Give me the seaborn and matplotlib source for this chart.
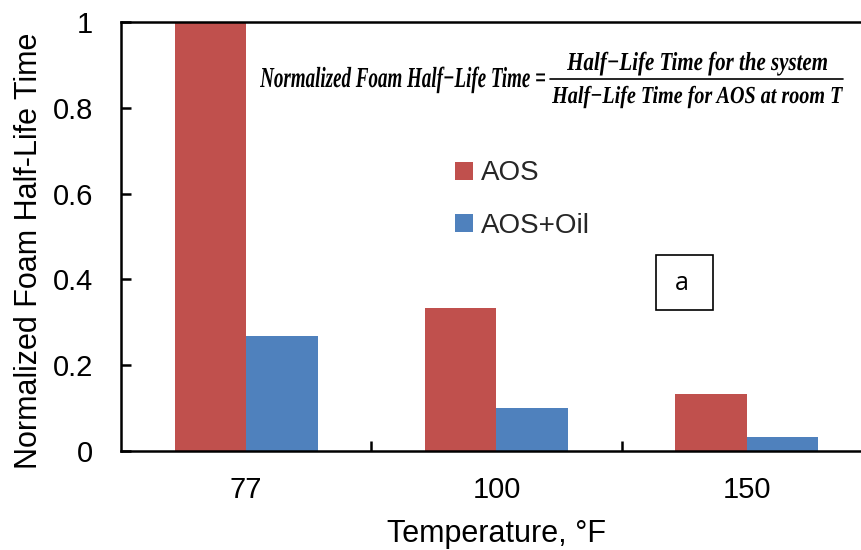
import matplotlib
matplotlib.use("Agg")
import matplotlib.pyplot as plt
import seaborn as sns
import pandas as pd
from matplotlib.patches import Patch, Rectangle, PathPatch
from matplotlib.lines import Line2D
from matplotlib.textpath import TextPath
from matplotlib.font_manager import FontProperties
from matplotlib.transforms import Affine2D

temperatures = ["77", "100", "150"]
aos = [1.0, 0.333, 0.133]
aos_oil = [0.267, 0.100, 0.033]
series_names = ["AOS", "AOS+Oil"]
colors = ["#C0504D", "#4F81BD"]
y_ticks = [0, 0.2, 0.4, 0.6, 0.8, 1.0]
y_tick_labels = ["0", "0.2", "0.4", "0.6", "0.8", "1"]

df = pd.DataFrame({
    "Temperature": temperatures * 2,
    "value": aos + aos_oil,
    "series": [series_names[0]] * 3 + [series_names[1]] * 3,
})

sns.set_theme(style="white")
plt.rcParams["font.family"] = ["Liberation Sans", "DejaVu Sans"]

W, H = 862, 550
fig = plt.figure(figsize=(W / 100, H / 100), dpi=100)
ax = fig.add_axes([121 / W, 99 / H, 751 / W, 429 / H])

sns.barplot(data=df, x="Temperature", y="value", hue="series",
            order=temperatures, hue_order=series_names, palette=colors,
            saturation=1, width=0.57, gap=0, linewidth=0, ax=ax, legend=False)

ax.set_xlim(-0.5, 2.5)
ax.set_ylim(0, 1)
ax.set_yticks(y_ticks)
ax.set_yticklabels(y_tick_labels)
ax.set_xticks([0.5, 1.5], minor=True)

for side in ["left", "bottom", "top", "right"]:
    ax.spines[side].set_visible(True)
    ax.spines[side].set_color("black")
    ax.spines[side].set_linewidth(1.8)

ax.tick_params(axis="y", which="major", direction="in", length=7, width=1.8,
               labelsize=21, pad=20, left=True, colors="black")
ax.tick_params(axis="x", which="major", length=0, labelsize=21, pad=18,
               colors="black")
ax.tick_params(axis="x", which="minor", direction="in", length=7, width=1.8,
               bottom=True, colors="black")
ax.set_xlabel("")
ax.set_ylabel("")

# axis titles
fig.text(497 / W, 8 / H, "Temperature, °F", fontsize=22, ha="center",
         va="baseline", color="black")
fig.text(29 / W, 1 - 251 / H, "Normalized Foam Half-Life Time", fontsize=22,
         rotation=90, ha="center", va="center", color="black")

handles = [Patch(facecolor=c, edgecolor="none") for c in colors]
ax.legend(handles, series_names, loc="upper left",
          bbox_to_anchor=(436 / W, 1 - 141 / H), bbox_transform=fig.transFigure,
          frameon=False, fontsize=20, handlelength=0.62, handleheight=0.62,
          handletextpad=0.3, labelspacing=0.95, borderpad=0.2)

# panel tag
fig.patches.append(Rectangle((656 / W, 1 - 310 / H), 57 / W, 55 / H,
                             transform=fig.transFigure, fill=False,
                             edgecolor="black", linewidth=1.2))
fig.text(682 / W, 1 - 284 / H, "a", fontsize=18, ha="center", va="center",
         family="Open Sans", color="black")

# normalisation formula, drawn as condensed glyph outlines
formula_font = FontProperties(family="Liberation Serif", weight="bold",
                              style="italic")
cap_ref = TextPath((0, 0), "H", size=100, prop=formula_font).get_extents().y1
to_pixels = Affine2D().scale(1 / 100) + fig.dpi_scale_trans


def condensed_text(s, left, right, cap_top, baseline):
    tp = TextPath((0, 0), s, size=100, prop=formula_font)
    ext = tp.get_extents()
    sx = (right - left) / ext.width
    sy = (baseline - cap_top) / cap_ref
    tr = (Affine2D().translate(-ext.x0, 0).scale(sx, sy)
          .translate(left, H - baseline)) + to_pixels
    fig.patches.append(PathPatch(tp, transform=tr, facecolor="black",
                                 edgecolor="none"))


condensed_text("Normalized Foam Half\u2212Life Time =", 260, 545, 68, 87)
condensed_text("Half\u2212Life Time for the system", 567, 827, 53, 70)
condensed_text("Half\u2212Life Time for AOS at room T", 552, 843, 87, 103)
fig.lines.append(Line2D([550 / W, 843 / W], [1 - 79 / H, 1 - 79 / H],
                        transform=fig.transFigure, color="black", linewidth=1.2))

fig.savefig("out.png", dpi=100)
